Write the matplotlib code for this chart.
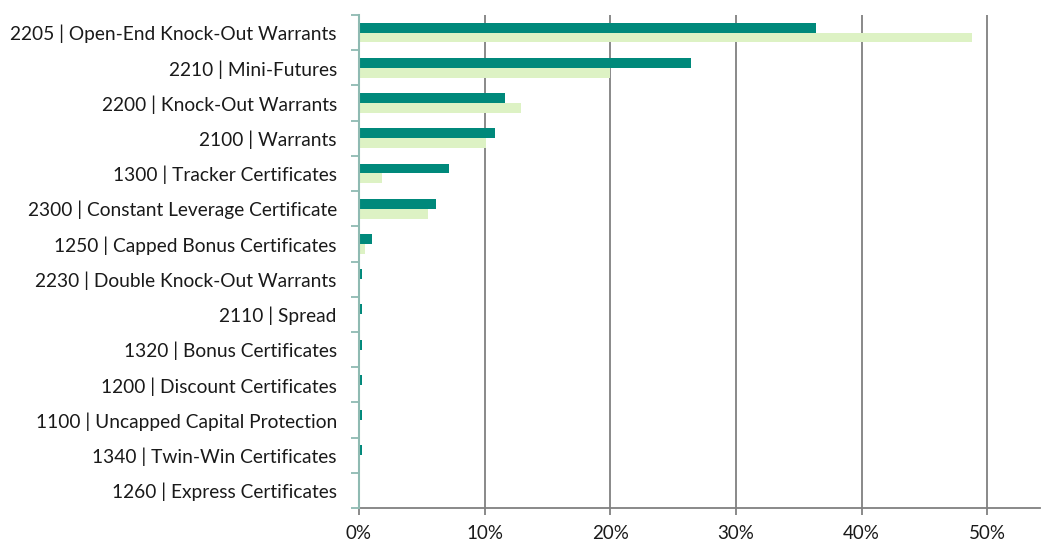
import numpy as np
import matplotlib.pyplot as plt
from matplotlib.ticker import FuncFormatter

categories = [
    "2205 | Open-End Knock-Out Warrants",
    "2210 | Mini-Futures",
    "2200 | Knock-Out Warrants",
    "2100 | Warrants",
    "1300 | Tracker Certificates",
    "2300 | Constant Leverage Certificate",
    "1250 | Capped Bonus Certificates",
    "2230 | Double Knock-Out Warrants",
    "2110 | Spread",
    "1320 | Bonus Certificates",
    "1200 | Discount Certificates",
    "1100 | Uncapped Capital Protection",
    "1340 | Twin-Win Certificates",
    "1260 | Express Certificates",
]
series_dark = [0.364, 0.264, 0.1165, 0.1085, 0.072, 0.061, 0.010, 0.002, 0.002, 0.002, 0.002, 0.002, 0.002, 0.0]
series_light = [0.488, 0.200, 0.129, 0.101, 0.018, 0.055, 0.005, 0.001, 0.001, 0.001, 0.001, 0.001, 0.001, 0.0]

plt.rcParams['font.family'] = ['Lato', 'DejaVu Sans']

fig = plt.figure(figsize=(10.44, 5.42), dpi=100)
ax = fig.add_axes([359 / 1044, 1 - 508 / 542, (1040 - 359) / 1044, (508 - 15) / 542])

y = np.arange(len(categories))
h = 0.28
ax.barh(y - h / 2, series_dark, height=h, color='#00897b', zorder=3)
ax.barh(y + h / 2, series_light, height=h, color='#ddf2c4', zorder=3)

ax.set_ylim(len(categories) - 0.5, -0.5)
ax.set_xlim(0, 0.542)
ax.set_xticks(np.arange(0, 0.51, 0.1))
ax.xaxis.set_major_formatter(FuncFormatter(lambda v, p: f"{v * 100:.0f}%"))
ax.grid(axis='x', color='#808080', linewidth=1.3, zorder=0)

ax.set_yticks(y)
ax.set_yticklabels(categories)
ax.set_yticks(np.arange(-0.5, len(categories), 1), minor=True)
ax.tick_params(axis='y', which='major', length=0, pad=16, labelsize=13.8, colors='#1a1a1a')
ax.tick_params(axis='y', which='minor', length=6, width=1.3, color='#8fbab2')
ax.tick_params(axis='x', length=5, width=1.3, color='#808080', labelsize=13.5, pad=7, labelcolor='#1a1a1a')

for s in ['top', 'right']:
    ax.spines[s].set_visible(False)
ax.spines['left'].set_color('#8fbab2')
ax.spines['left'].set_linewidth(1.5)
ax.spines['left'].set_zorder(4)
ax.spines['bottom'].set_color('#808080')
ax.spines['bottom'].set_linewidth(1.3)

plt.savefig("out.png")
